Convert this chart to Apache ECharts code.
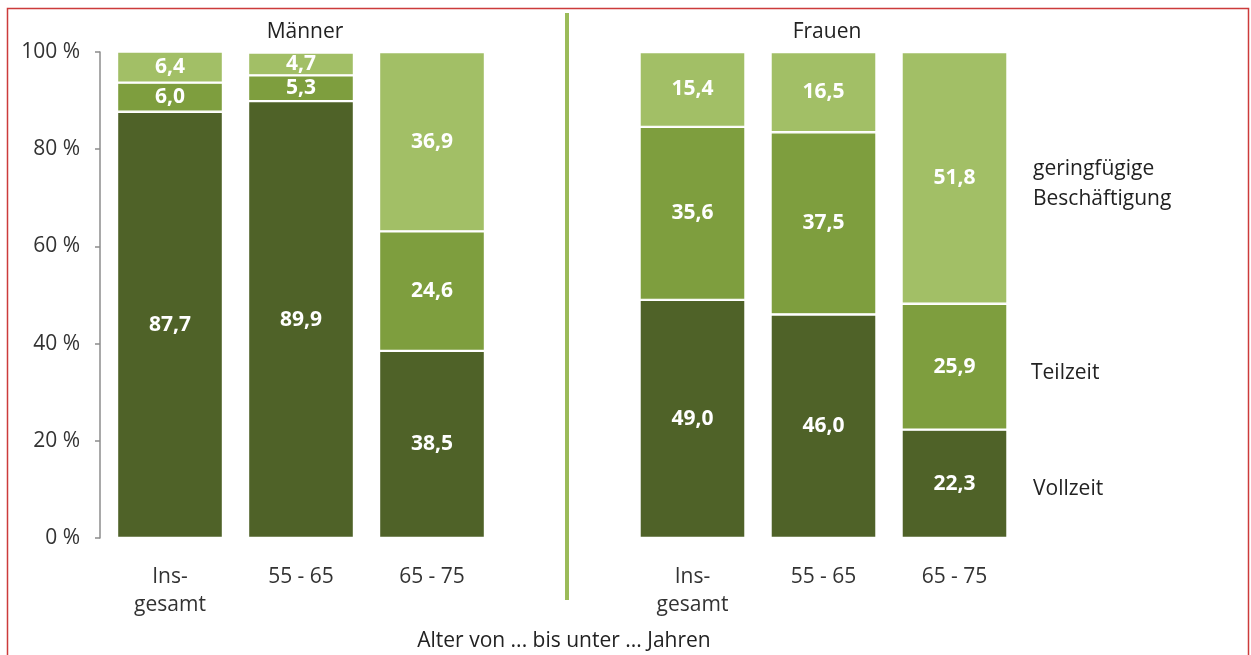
<!DOCTYPE html>
<html>
<head>
<meta charset="utf-8">
<script src="https://cdn.jsdelivr.net/npm/echarts@6/dist/echarts.min.js"></script>
<style>
  html, body { margin: 0; padding: 0; background: #fff; }
  #main { width: 1251px; height: 655px; }
</style>
</head>
<body>
<div id="main"></div>
<script>
// Daten ablesen aus der Grafik
var categories = ['Ins-\ngesamt', '55 - 65', '65 - 75'];
var maennerVollzeit = [87.7, 89.9, 38.5];
var maennerTeilzeit = [6.0, 5.3, 24.6];
var maennerGering = [6.4, 4.7, 36.9];
var frauenVollzeit = [49.0, 46.0, 22.3];
var frauenTeilzeit = [35.6, 37.5, 25.9];
var frauenGering = [15.4, 16.5, 51.8];
var yTicks = [0, 20, 40, 60, 80, 100];

var FONT = '"Open Sans", Lato, sans-serif';
var FS = 21;
var colVoll = '#4f6228';
var colTeil = '#7e9e3e';
var colGer = '#a2bf66';

var chart = echarts.init(document.getElementById('main'));

function fmt(p) {
  return p.value.toFixed(1).replace('.', ',');
}

function barSeries(name, data, color, gridIdx) {
  return {
    name: name,
    type: 'bar',
    stack: 'g' + gridIdx,
    xAxisIndex: gridIdx,
    yAxisIndex: gridIdx,
    data: data,
    barWidth: 106,
    itemStyle: { color: color, borderColor: '#fff', borderWidth: 1.2 },
    label: {
      show: true,
      position: 'inside',
      color: '#fff',
      fontFamily: FONT,
      fontWeight: 'bold',
      fontSize: FS,
      formatter: fmt
    },
    animation: false
  };
}

function xAxisFor(gridIdx) {
  return {
    type: 'category',
    gridIndex: gridIdx,
    data: categories,
    axisLine: { show: false },
    axisTick: { show: false },
    axisLabel: {
      color: '#333',
      fontFamily: FONT,
      fontSize: FS,
      lineHeight: 28,
      margin: 25
    }
  };
}

var option = {
  backgroundColor: '#fff',
  title: [
    { text: 'Männer', left: 300, top: 17, textAlign: 'center',
      textStyle: { fontFamily: FONT, fontSize: FS, fontWeight: 'normal', color: '#222' } },
    { text: 'Frauen', left: 822, top: 17, textAlign: 'center',
      textStyle: { fontFamily: FONT, fontSize: FS, fontWeight: 'normal', color: '#222' } }
  ],
  grid: [
    { left: 104.5, width: 393, top: 52, height: 486 },
    { left: 627, width: 393, top: 52, height: 486 }
  ],
  xAxis: [xAxisFor(0), xAxisFor(1)],
  yAxis: [
    {
      type: 'value',
      gridIndex: 0,
      min: 0,
      max: 100,
      interval: 20,
      offset: 4.5,
      axisLine: { show: true, lineStyle: { color: '#8c8c8c', width: 1.5 } },
      axisTick: { show: true, length: 5, lineStyle: { color: '#8c8c8c', width: 1.5 } },
      splitLine: { show: false },
      axisLabel: {
        color: '#333',
        fontFamily: FONT,
        fontSize: FS,
        margin: 20,
        formatter: function (v) { return yTicks.indexOf(v) >= 0 ? v + ' %' : ''; }
      }
    },
    {
      type: 'value',
      gridIndex: 1,
      min: 0,
      max: 100,
      interval: 20,
      show: false,
      splitLine: { show: false }
    }
  ],
  series: [
    barSeries('Vollzeit', maennerVollzeit, colVoll, 0),
    barSeries('Teilzeit', maennerTeilzeit, colTeil, 0),
    barSeries('geringfügige Beschäftigung', maennerGering, colGer, 0),
    barSeries('Vollzeit', frauenVollzeit, colVoll, 1),
    barSeries('Teilzeit', frauenTeilzeit, colTeil, 1),
    barSeries('geringfügige Beschäftigung', frauenGering, colGer, 1)
  ],
  graphic: [
    // roter Rahmen
    { type: 'rect', shape: { x: 7.5, y: 8.5, width: 1241, height: 660 },
      style: { fill: 'none', stroke: '#cc3b3b', lineWidth: 1.5 }, z: 10 },
    // Trennlinie Männer / Frauen
    { type: 'line', shape: { x1: 567, y1: 13, x2: 567, y2: 600 },
      style: { stroke: '#9bbb59', lineWidth: 4 } },
    { type: 'text', x: 564, y: 631,
      style: { text: 'Alter von ... bis unter ... Jahren', textAlign: 'center', fontFamily: FONT, fontSize: FS, fill: '#222' } },
    { type: 'text', x: 1033, y: 154,
      style: { text: 'geringfügige\nBeschäftigung', fontFamily: FONT, fontSize: FS, lineHeight: 30, fill: '#222' } },
    { type: 'text', x: 1031, y: 363,
      style: { text: 'Teilzeit', fontFamily: FONT, fontSize: FS, fill: '#222' } },
    { type: 'text', x: 1033, y: 479,
      style: { text: 'Vollzeit', fontFamily: FONT, fontSize: FS, fill: '#222' } }
  ]
};

chart.setOption(option);
</script>
</body>
</html>
